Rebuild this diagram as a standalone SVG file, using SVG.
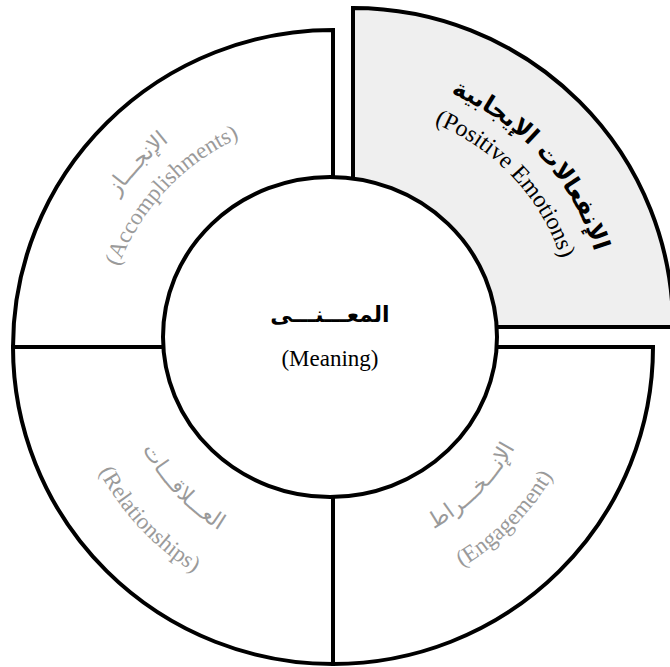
<svg xmlns="http://www.w3.org/2000/svg" xmlns:xlink="http://www.w3.org/1999/xlink" width="670" height="667" viewBox="0 0 670 667">
<style>
.seg{stroke:#000;stroke-width:4;stroke-linejoin:miter;fill:#fff}
.gray{fill:#efefef}
.en{font-family:"Liberation Serif","Times New Roman",serif;font-size:23px}
.ar{font-family:"DejaVu Sans","Noto Sans",sans-serif;font-size:22px}
.faint{fill:#9a9a9a}
.dark{fill:#000}
.b{font-weight:bold}
</style>
<defs>
<path id="tlA" d="M70,347 A263,263 0 0 1 333,84"/>
<path id="tlE" d="M104,347 A229,229 0 0 1 333,118"/>
<path id="trA" d="M353,74 A253,253 0 0 1 606,327"/>
<path id="trE" d="M353,108 A219,219 0 0 1 572,327"/>
<path id="blA" d="M117,347 A216,216 0 0 0 333,563"/>
<path id="blE" d="M68,347 A265,265 0 0 0 333,612"/>
<path id="brA" d="M333,555 A208,208 0 0 0 541,347"/>
<path id="brE" d="M333,602 A255,255 0 0 0 588,347"/>
</defs>
<g id="accomplishments">
<path class="seg" d="M333,347 L13,347 A320,317 0 0 1 333,30 Z"/>
<text class="ar faint" text-anchor="middle"><textPath xlink:href="#tlA" href="#tlA" startOffset="48%">الإنجـــاز</textPath></text>
<text class="en faint" text-anchor="middle"><textPath xlink:href="#tlE" href="#tlE" startOffset="48%">(Accomplishments)</textPath></text>
</g>
<g id="positive-emotions">
<path class="seg gray" d="M353,327 L353,8 A320,319 0 0 1 673,327 Z"/>
<text class="ar dark b" text-anchor="middle" style="font-size:24px"><textPath xlink:href="#trA" href="#trA" startOffset="53%">الإنفعالات الإيجابية</textPath></text>
<text class="en dark" text-anchor="middle" style="font-size:24px"><textPath xlink:href="#trE" href="#trE" startOffset="52%">(Positive Emotions)</textPath></text>
</g>
<g id="relationships">
<path class="seg" d="M333,347 L13,347 A320,317 0 0 0 333,664 Z"/>
<text class="ar faint" text-anchor="middle"><textPath xlink:href="#blA" href="#blA" startOffset="48%">العـــلاقـــات</textPath></text>
<text class="en faint" text-anchor="middle"><textPath xlink:href="#blE" href="#blE" startOffset="48%">(Relationships)</textPath></text>
</g>
<g id="engagement">
<path class="seg" d="M333,347 L333,664 A320,317 0 0 0 653,347 Z"/>
<text class="ar faint" text-anchor="middle"><textPath xlink:href="#brA" href="#brA" startOffset="50%">الإنـــخـــراط</textPath></text>
<text class="en faint" text-anchor="middle"><textPath xlink:href="#brE" href="#brE" startOffset="50%">(Engagement)</textPath></text>
</g>
<g id="meaning">
<ellipse class="seg" cx="330" cy="337" rx="167" ry="160"/>
<text class="ar dark b" x="330" y="322" text-anchor="middle">المعـــنـــى</text>
<text class="en dark" x="330" y="366" text-anchor="middle">(Meaning)</text>
</g>
</svg>
